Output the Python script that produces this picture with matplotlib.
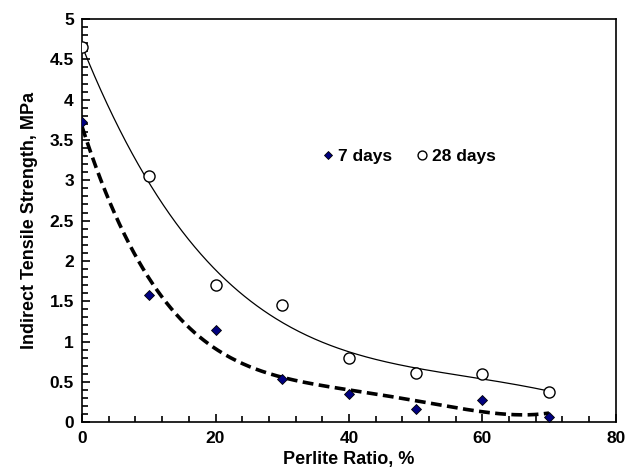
import numpy as np
import matplotlib
matplotlib.use("Agg")
import matplotlib.pyplot as plt
from matplotlib.ticker import MultipleLocator

perlite = [0, 10, 20, 30, 40, 50, 60, 70]
days7 = [3.72, 1.58, 1.14, 0.54, 0.35, 0.16, 0.27, 0.07]
days28 = [4.65, 3.05, 1.70, 1.45, 0.80, 0.61, 0.60, 0.37]

plt.rcParams['font.family'] = ['Liberation Sans', 'DejaVu Sans']
plt.rcParams['font.weight'] = 'bold'

fig = plt.figure(figsize=(6.27, 4.76), dpi=100)
ax = fig.add_axes([0.131, 0.113, 0.851, 0.847])

xs = np.linspace(0, 70, 300)
p7 = np.polyfit(perlite, days7, 4)
p28 = np.polyfit(perlite, days28, 4)
ax.plot(xs, np.polyval(p7, xs), color='black', lw=2.6, ls=(0, (3, 1.5)), zorder=2)
ax.plot(xs, np.polyval(p28, xs), color='black', lw=0.9, zorder=2)

ax.plot(perlite, days7, ls='none', marker='D', ms=5, mfc='#000080', mec='black', mew=0.6,
        label='7 days', zorder=3)
ax.plot(perlite, days28, ls='none', marker='o', ms=8, mfc='white', mec='black', mew=1.0,
        label='28 days', zorder=3)

ax.set_xlim(0, 80)
ax.set_ylim(0, 5)
ax.xaxis.set_major_locator(MultipleLocator(20))
ax.xaxis.set_minor_locator(MultipleLocator(4))
ax.yaxis.set_major_locator(MultipleLocator(0.5))
ax.yaxis.set_minor_locator(MultipleLocator(0.1))
ax.tick_params(which='both', direction='in', top=False, right=False, width=1.2, labelsize=12.5, pad=6)
ax.tick_params(which='major', length=6)
ax.tick_params(which='minor', length=4)
ax.set_yticks(np.arange(0, 5.01, 0.5))
ax.set_yticklabels(['0', '0.5', '1', '1.5', '2', '2.5', '3', '3.5', '4', '4.5', '5'])
for s in ax.spines.values():
    s.set_linewidth(1.2)

ax.set_xlabel('Perlite Ratio, %', fontsize=13, fontweight='bold', labelpad=4)
ax.set_ylabel('Indirect Tensile Strength, MPa', fontsize=13, fontweight='bold', labelpad=8)

leg = ax.legend(loc='center', bbox_to_anchor=(0.61, 0.66), ncol=2, frameon=False,
                fontsize=12.5, handletextpad=0.1, columnspacing=1.2, handlelength=1.0,
                markerscale=0.8)

fig.savefig('out.png', dpi=100)
